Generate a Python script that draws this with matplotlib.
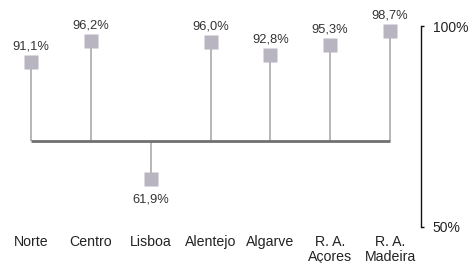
import numpy as np
import matplotlib
matplotlib.use("Agg")
import matplotlib.pyplot as plt

plt.rcParams['font.family'] = ['Liberation Sans', 'DejaVu Sans']

# dados
regioes = ["Norte", "Centro", "Lisboa", "Alentejo", "Algarve", "R. A.\nAçores", "R. A.\nMadeira"]
valores = [91.1, 96.2, 61.9, 96.0, 92.8, 95.3, 98.7]
rotulos = ["91,1%", "96,2%", "61,9%", "96,0%", "92,8%", "95,3%", "98,7%"]
base = 71.5
ticks = [50, 100]
tick_labels = ["50%", "100%"]

W, H = 469, 263
fig = plt.figure(figsize=(W / 100, H / 100), dpi=100)
ax = fig.add_axes([0, 0, 421 / W, 1])

x = np.arange(len(regioes))
ax.set_xlim(-0.518, 6.518)
# 100% em y=26px, 50% em y=227px
esc = (227 - 26) / 50.0
ax.set_ylim(50 - (H - 227) / esc, 100 + 26 / esc)

ax.vlines(x, base, valores, color="#a9a9a9", lw=1.2, zorder=1)
ax.plot([x[0], x[-1]], [base, base], color="#707070", lw=2.0, solid_capstyle="butt", zorder=2)
ax.plot(x, valores, ls="none", marker="s", ms=9.5, mfc="#b8b5c0", mec="none", zorder=3)

for xi, v, r in zip(x, valores, rotulos):
    if v >= base:
        ax.annotate(r, (xi, v), xytext=(0, 9), textcoords="offset points",
                    ha="center", va="baseline", fontsize=9.3, color="#333333")
    else:
        ax.annotate(r, (xi, v), xytext=(0, -10), textcoords="offset points",
                    ha="center", va="top", fontsize=9.3, color="#333333")

y_cat = 100 - (235 - 26) / esc
for xi, nome in zip(x, regioes):
    ax.text(xi, y_cat, nome, ha="center", va="top", fontsize=10.2,
            color="#222222", linespacing=1.1)

for s in ["top", "left", "bottom"]:
    ax.spines[s].set_visible(False)
ax.spines["right"].set_bounds(50, 100)
ax.spines["right"].set_color("#111111")
ax.spines["right"].set_linewidth(1.0)
ax.set_xticks([])
ax.yaxis.tick_right()
ax.set_yticks(ticks)
ax.set_yticklabels(tick_labels)
ax.tick_params(axis="y", direction="out", length=2.5, width=1.0, pad=6,
               labelsize=10, colors="#111111", labelcolor="#222222")

fig.savefig("out.png", dpi=100)
